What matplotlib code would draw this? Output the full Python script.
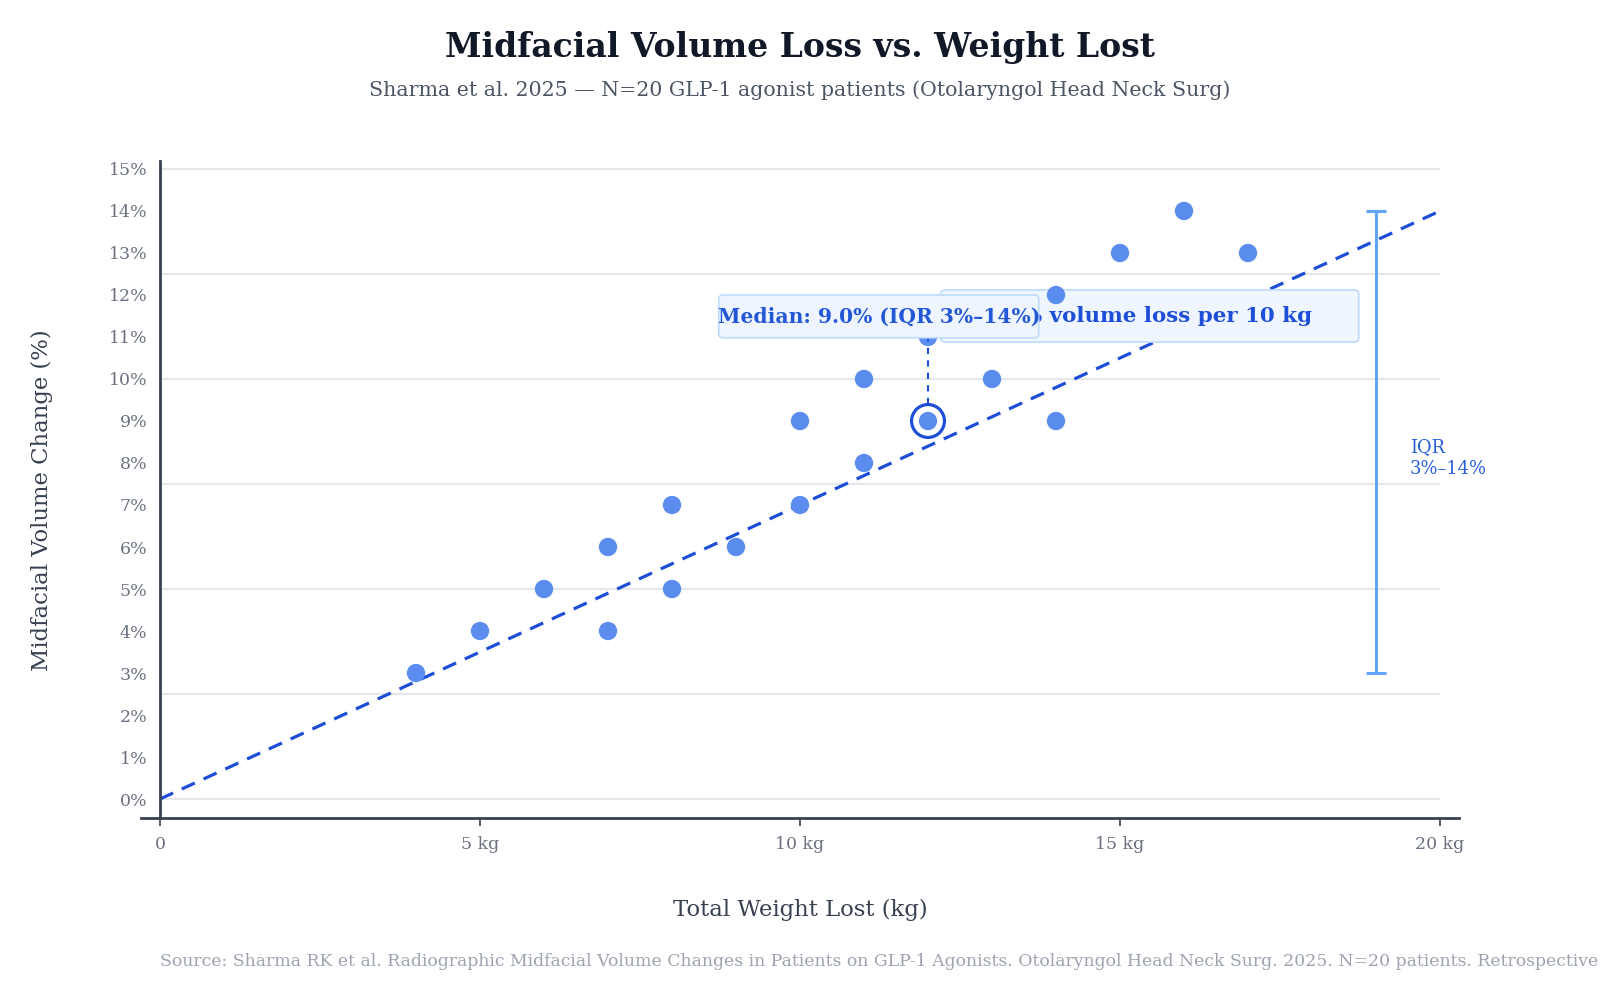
import matplotlib
matplotlib.use("Agg")
import matplotlib.pyplot as plt
from matplotlib.patches import FancyBboxPatch

plt.rcParams["font.family"] = ["DejaVu Serif"]

# Patient data
weight_kg = [4, 5, 6, 7, 7, 8, 8, 9, 10, 10, 11, 11, 12, 12, 13, 14, 14, 15, 16, 17]
volume_pct = [3, 4, 5, 6, 4, 7, 5, 6, 9, 7, 10, 8, 11, 9, 10, 12, 9, 13, 14, 13]

# Trend line endpoints
trend_x = [0, 20]
trend_y = [0, 14]

# Median patient and IQR
median_x = 12
median_y = 9.0
iqr_low = 3
iqr_high = 14
iqr_x = 19

x_ticks = [0, 5, 10, 15, 20]
x_tick_labels = ["0", "5 kg", "10 kg", "15 kg", "20 kg"]
y_ticks = list(range(0, 16))
y_tick_labels = [f"{v}%" for v in y_ticks]
grid_levels = [0, 2.5, 5, 7.5, 10, 12.5, 15]

median_label = f"Median: {median_y:.1f}% (IQR {iqr_low}%\u2013{iqr_high}%)"
slope_label = "~7% volume loss per 10 kg"
iqr_label = f"IQR\n{iqr_low}%\u2013{iqr_high}%"

DARK = "#374151"
BLUE = "#1d4ed8"

fig = plt.figure(figsize=(16, 10), dpi=100)
ax = fig.add_axes([0.088, 0.182, 0.824, 0.657])
ax.set_xlim(-0.3, 20.3)
ax.set_ylim(-0.452, 15.19)

# gridlines every 2.5%
ax.hlines(grid_levels, 0, 20, color="#e5e7eb", linewidth=1.5, zorder=0.5)

# trend line
ax.plot(trend_x, trend_y, color=BLUE, linewidth=2.3, linestyle=(0, (4.5, 3)), zorder=1)

# slope annotation box (behind the points)
slope_box = FancyBboxPatch((12.2, 10.88), 6.53, 1.24,
                           boxstyle="round,pad=0,rounding_size=0.08",
                           facecolor="#eff6ff", edgecolor="#bfdbfe", linewidth=1.2, zorder=2)
ax.add_patch(slope_box)
ax.text(15.47, 11.5, slope_label, ha="center", va="center", fontsize=15.4,
        fontweight="bold", color=BLUE, zorder=3.5)

# IQR bar
ax.errorbar([iqr_x], [(iqr_low + iqr_high) / 2], yerr=[(iqr_high - iqr_low) / 2],
            fmt="none", ecolor="#60a5fa", elinewidth=2.2, capsize=7, capthick=2.2, zorder=2.5)
ax.text(iqr_x + 0.53, 8.12, iqr_label, ha="left", va="center", fontsize=12.9,
        color="#2b5fd9", linespacing=1.3)

# scatter
ax.scatter(weight_kg, volume_pct, s=175, color="#5b8def", edgecolor="none", zorder=3)

# median highlight
ax.scatter([median_x], [median_y], s=560, facecolor="none", edgecolor=BLUE,
           linewidth=2.3, zorder=3.2)
ax.plot([median_x, median_x], [median_y + 0.4, 10.98], color=BLUE, linewidth=1.5,
        linestyle=(0, (3, 3)), zorder=3.1)

median_box = FancyBboxPatch((8.73, 10.98), 5.0, 1.02,
                            boxstyle="round,pad=0,rounding_size=0.08",
                            facecolor="#eef5ff", edgecolor="#bfdbfe", linewidth=1.2, zorder=4)
ax.add_patch(median_box)
ax.text(11.23, 11.49, median_label, ha="center", va="center", fontsize=14.6,
        fontweight="bold", color="#2258d6", zorder=5)

# axes styling
for side in ["top", "right"]:
    ax.spines[side].set_visible(False)
ax.spines["left"].set_position(("data", 0))
ax.spines["left"].set_color(DARK)
ax.spines["left"].set_linewidth(2)
ax.spines["bottom"].set_color(DARK)
ax.spines["bottom"].set_linewidth(2)

ax.set_xticks(x_ticks)
ax.set_xticklabels(x_tick_labels)
ax.set_yticks(y_ticks)
ax.set_yticklabels(y_tick_labels)
ax.tick_params(axis="x", length=6, width=1.2, color=DARK, pad=7, labelsize=12.5, labelcolor="#6b7280")
ax.tick_params(axis="y", length=0, pad=9, labelsize=12.5, labelcolor="#6b7280")

# texts
fig.text(0.5, 0.952, "Midfacial Volume Loss vs. Weight Lost", ha="center", va="center",
         fontsize=23.8, fontweight="bold", color="#111827")
fig.text(0.5, 0.91, "Sharma et al. 2025 \u2014 N=20 GLP-1 agonist patients (Otolaryngol Head Neck Surg)",
         ha="center", va="center", fontsize=14.8, color="#4b5563")
fig.text(0.5, 0.09, "Total Weight Lost (kg)", ha="center", va="center", fontsize=16.4, color=DARK)
fig.text(0.026, 0.5, "Midfacial Volume Change (%)", ha="center", va="center", rotation=90,
         fontsize=16.4, color=DARK)
fig.text(0.1, 0.038, "Source: Sharma RK et al. Radiographic Midfacial Volume Changes in Patients on "
         "GLP-1 Agonists. Otolaryngol Head Neck Surg. 2025. N=20 patients. Retrospective cohort study.",
         ha="left", va="center", fontsize=12.4, color="#9ca3af")

fig.savefig("out.png", dpi=100)
